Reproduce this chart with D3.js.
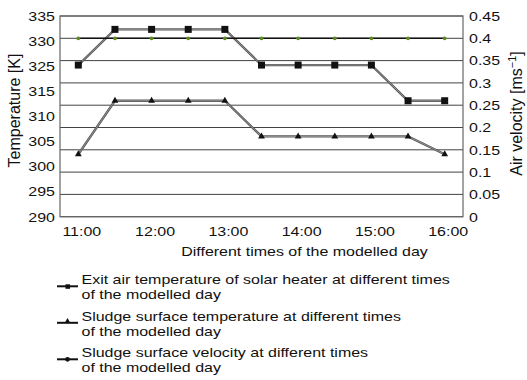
<!DOCTYPE html>
<html>
<head>
<meta charset="utf-8">
<script src="https://cdn.jsdelivr.net/npm/d3@7"></script>
<style>
  body { margin: 0; background: #fff; }
  text { font-family: "Liberation Sans", Arial, sans-serif; fill: #111; }
</style>
</head>
<body>
<div id="chart"></div>
<script>
// data
var times = ["11:00", "11:30", "12:00", "12:30", "13:00", "13:30", "14:00", "14:30", "15:00", "15:30", "16:00"];
var hourLabels = ["11:00", "12:00", "13:00", "14:00", "15:00", "16:00"];
var exitAirTemp = [324, 332, 332, 332, 332, 324, 324, 324, 324, 316, 316];
var sludgeTemp = [304, 316, 316, 316, 316, 308, 308, 308, 308, 308, 304];
var sludgeVelocity = [0.4, 0.4, 0.4, 0.4, 0.4, 0.4, 0.4, 0.4, 0.4, 0.4, 0.4];
var tempTickLabels = ["335", "330", "325", "315", "310", "305", "300", "295", "290"];
var velocityTicks = [0, 0.05, 0.1, 0.15, 0.2, 0.25, 0.3, 0.35, 0.4, 0.45];
var legendLabels = [
  ["Exit air temperature of solar heater at different times", "of the modelled day"],
  ["Sludge surface temperature at different times", "of the modelled day"],
  ["Sludge surface velocity at different times", "of the modelled day"]
];

var svgWidth = 527;
var svgHeight = 380;
var margin = { top: 16, right: 64, bottom: 163.3, left: 60 };
var width = svgWidth - margin.left - margin.right;
var height = svgHeight - margin.top - margin.bottom;
var squish = "scale(1,0.85)"; // the figure's text is a bit flattened

var svg = d3.select("#chart").append("svg")
  .attr("width", svgWidth)
  .attr("height", svgHeight);

var chartGroup = svg.append("g")
  .attr("transform", `translate(${margin.left}, ${margin.top})`);

// scales
var x = d3.scalePoint().domain(times).range([0, width]).padding(0.5);
var yTemp = d3.scaleLinear().domain([290, 335]).range([height, 0]);
var yVel = d3.scaleLinear().domain([0, 0.45]).range([height, 0]);
var yTempLabel = d3.scalePoint().domain(tempTickLabels).range([0, height]);

// gridlines
chartGroup.selectAll(".grid")
  .data(velocityTicks)
  .enter()
  .append("line")
  .attr("x1", 0)
  .attr("x2", width)
  .attr("y1", d => yVel(d))
  .attr("y2", d => yVel(d))
  .attr("stroke", "#444")
  .attr("stroke-width", 1);

chartGroup.append("rect")
  .attr("width", width)
  .attr("height", height)
  .attr("fill", "none")
  .attr("stroke", "#666")
  .attr("stroke-width", 1.2);

// axes
var leftAxis = chartGroup.append("g")
  .call(d3.axisLeft(yTempLabel).tickSize(0).tickPadding(5));

var rightAxis = chartGroup.append("g")
  .attr("transform", `translate(${width}, 0)`)
  .call(d3.axisRight(yVel).tickValues(velocityTicks).tickFormat(d3.format("~g")).tickSize(0).tickPadding(6));

var bottomAxis = chartGroup.append("g")
  .attr("transform", `translate(0, ${height})`)
  .call(d3.axisBottom(x).tickValues(hourLabels).tickSize(0).tickPadding(11));

[leftAxis, rightAxis, bottomAxis].forEach(function(ax) {
  ax.select(".domain").remove();
  ax.selectAll("text")
    .attr("font-family", "Liberation Sans, Arial, sans-serif")
    .attr("font-size", "16px")
    .attr("fill", "#111")
    .attr("transform", squish);
});
bottomAxis.selectAll("text").attr("dx", 3);

// series lines (drawn as a thin band with dark edges)
var line = d3.line().x((d, i) => x(times[i]));

[exitAirTemp, sludgeTemp].forEach(function(series) {
  var path = line.y(d => yTemp(d))(series);
  chartGroup.append("path").attr("d", path).attr("fill", "none")
    .attr("stroke", "#555").attr("stroke-width", 2.3);
  chartGroup.append("path").attr("d", path).attr("fill", "none")
    .attr("stroke", "#bbb").attr("stroke-width", 0.6);
});

chartGroup.append("path")
  .attr("d", line.y(d => yVel(d))(sludgeVelocity))
  .attr("fill", "none")
  .attr("stroke", "#111")
  .attr("stroke-width", 1.5);

// markers
chartGroup.selectAll(".sq")
  .data(exitAirTemp)
  .enter()
  .append("rect")
  .attr("x", (d, i) => x(times[i]) - 3.5)
  .attr("y", d => yTemp(d) - 3.5)
  .attr("width", 7)
  .attr("height", 7)
  .attr("fill", "#111");

chartGroup.selectAll(".tri")
  .data(sludgeTemp)
  .enter()
  .append("path")
  .attr("d", d3.symbol().type(d3.symbolTriangle).size(20))
  .attr("transform", (d, i) => `translate(${x(times[i])}, ${yTemp(d)})`)
  .attr("fill", "#111");

chartGroup.selectAll(".dot")
  .data(sludgeVelocity)
  .enter()
  .append("circle")
  .attr("cx", (d, i) => x(times[i]))
  .attr("cy", d => yVel(d))
  .attr("r", 1.9)
  .attr("fill", "#5b8a1e");

// axis titles
svg.append("text")
  .attr("transform", "translate(20, 110.5) rotate(-90)")
  .attr("text-anchor", "middle")
  .attr("font-size", "16px")
  .text("Temperature [K]");

var velTitle = svg.append("text")
  .attr("transform", "translate(522, 113.5) rotate(-90)")
  .attr("text-anchor", "middle")
  .attr("font-size", "16px");
velTitle.append("tspan").text("Air velocity [ms");
velTitle.append("tspan").attr("font-size", "11px").attr("dy", -6).text("\u22121");
velTitle.append("tspan").attr("dy", 6).text("]");

svg.append("text")
  .attr("transform", `translate(304.5, 256) ${squish}`)
  .attr("text-anchor", "middle")
  .attr("font-size", "16px")
  .text("Different times of the modelled day");

// legend
var legend = svg.append("g").attr("transform", "translate(0, 284.3)");
var markerTypes = ["square", "triangle", "circle"];

legendLabels.forEach(function(lines, i) {
  var item = legend.append("g").attr("transform", `translate(0, ${i * 36.5})`);
  item.append("line")
    .attr("x1", 57).attr("x2", 78)
    .attr("y1", 2).attr("y2", 2)
    .attr("stroke", "#111").attr("stroke-width", 2);
  if (markerTypes[i] === "square") {
    item.append("rect").attr("x", 65.5).attr("y", 0).attr("width", 4.5).attr("height", 4.5).attr("fill", "#111");
  } else if (markerTypes[i] === "triangle") {
    item.append("path").attr("d", d3.symbol().type(d3.symbolTriangle).size(14))
      .attr("transform", "translate(67.5, 0.5)").attr("fill", "#111");
  } else {
    item.append("circle").attr("cx", 67.5).attr("cy", 2).attr("r", 2.4).attr("fill", "#111");
  }
  var t = item.append("text")
    .attr("transform", `translate(81.5, 0) ${squish}`)
    .attr("font-size", "16px");
  t.append("tspan").attr("x", 0).text(lines[0]);
  t.append("tspan").attr("x", 0).attr("dy", 15 / 0.85).text(lines[1]);
});
</script>
</body>
</html>
